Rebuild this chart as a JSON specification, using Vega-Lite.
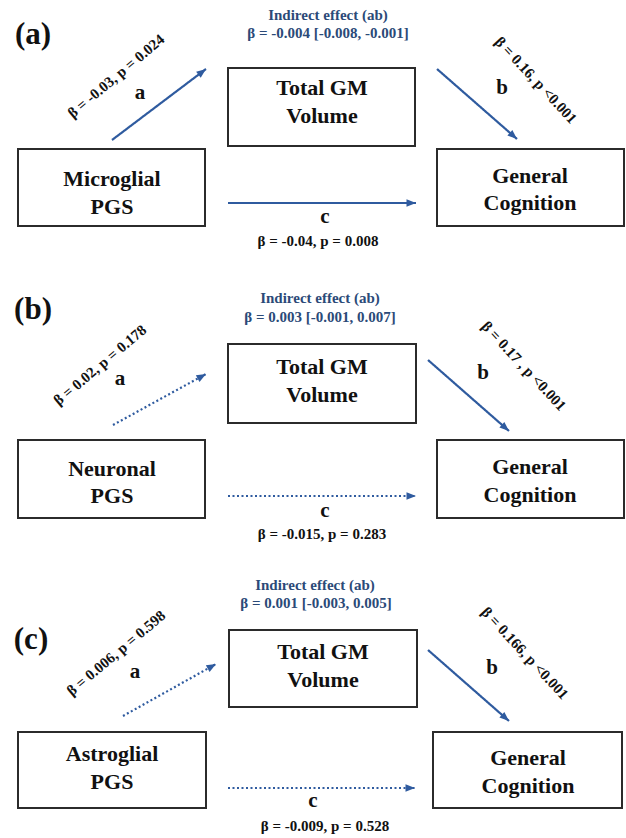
{
  "$schema": "https://vega.github.io/schema/vega-lite/v6.json",
  "width": 626,
  "height": 838,
  "autosize": {"type": "fit", "contains": "padding"},
  "padding": 0,
  "background": "white",
  "config": {"view": {"stroke": null}, "font": "Liberation Serif"},
  "datasets": {
    "boxes": [
      {"x1": 228, "x2": 415, "y1": 68, "y2": 146},
      {"x1": 18, "x2": 205, "y1": 149, "y2": 226},
      {"x1": 437, "x2": 624, "y1": 149, "y2": 226},
      {"x1": 228, "x2": 416, "y1": 344, "y2": 423},
      {"x1": 18, "x2": 205, "y1": 440, "y2": 518},
      {"x1": 437, "x2": 624, "y1": 440, "y2": 518},
      {"x1": 229, "x2": 417, "y1": 630, "y2": 707},
      {"x1": 18, "x2": 206, "y1": 732, "y2": 808},
      {"x1": 433, "x2": 622, "y1": 732, "y2": 808}
    ],
    "arrows": [
      {"x": 112, "y": 140, "xe": 206, "ye": 69, "sig": "yes"},
      {"x": 437, "y": 69, "xe": 517, "ye": 139, "sig": "yes"},
      {"x": 228, "y": 203, "xe": 416, "ye": 203, "sig": "yes"},
      {"x": 113, "y": 425, "xe": 206, "ye": 374, "sig": "no"},
      {"x": 428, "y": 360, "xe": 509, "ye": 431, "sig": "yes"},
      {"x": 228, "y": 496, "xe": 416, "ye": 496, "sig": "no"},
      {"x": 123, "y": 716, "xe": 216, "ye": 664, "sig": "no"},
      {"x": 428, "y": 650, "xe": 509, "ye": 721, "sig": "yes"},
      {"x": 228, "y": 788, "xe": 415, "ye": 788, "sig": "no"}
    ],
    "boxText": [
      {"x": 322, "y": 88, "t": "Total GM"},
      {"x": 322, "y": 116, "t": "Volume"},
      {"x": 112, "y": 179, "t": "Microglial"},
      {"x": 112, "y": 207, "t": "PGS"},
      {"x": 530, "y": 176, "t": "General"},
      {"x": 530, "y": 203, "t": "Cognition"},
      {"x": 322, "y": 367, "t": "Total GM"},
      {"x": 322, "y": 395, "t": "Volume"},
      {"x": 112, "y": 469, "t": "Neuronal"},
      {"x": 112, "y": 496, "t": "PGS"},
      {"x": 530, "y": 467, "t": "General"},
      {"x": 530, "y": 495, "t": "Cognition"},
      {"x": 323, "y": 652, "t": "Total GM"},
      {"x": 323, "y": 680, "t": "Volume"},
      {"x": 112, "y": 754, "t": "Astroglial"},
      {"x": 112, "y": 782, "t": "PGS"},
      {"x": 528, "y": 758, "t": "General"},
      {"x": 528, "y": 786, "t": "Cognition"}
    ],
    "panels": [
      {"x": 33, "y": 35, "t": "(a)"},
      {"x": 33, "y": 310, "t": "(b)"},
      {"x": 31, "y": 640, "t": "(c)"}
    ],
    "indirect": [
      {"x": 328, "y": 15, "t": "Indirect effect (ab)"},
      {"x": 328, "y": 33, "t": "β = -0.004 [-0.008, -0.001]"},
      {"x": 320, "y": 298, "t": "Indirect effect (ab)"},
      {"x": 320, "y": 317, "t": "β = 0.003 [-0.001, 0.007]"},
      {"x": 315, "y": 585, "t": "Indirect effect (ab)"},
      {"x": 316, "y": 603, "t": "β = 0.001 [-0.003, 0.005]"}
    ],
    "letters": [
      {"x": 140, "y": 93, "t": "a"},
      {"x": 502, "y": 88, "t": "b"},
      {"x": 325, "y": 217, "t": "c"},
      {"x": 120, "y": 379, "t": "a"},
      {"x": 483, "y": 373, "t": "b"},
      {"x": 325, "y": 511, "t": "c"},
      {"x": 135, "y": 672, "t": "a"},
      {"x": 492, "y": 668, "t": "b"},
      {"x": 313, "y": 801, "t": "c"}
    ],
    "coefC": [
      {"x": 318, "y": 241, "t": "β = -0.04, p = 0.008"},
      {"x": 322, "y": 534, "t": "β = -0.015, p = 0.283"},
      {"x": 325, "y": 826, "t": "β = -0.009, p = 0.528"}
    ],
    "coefA": [
      {"x": 116, "y": 76, "t": "β = -0.03, p = 0.024"},
      {"x": 100, "y": 365, "t": "β = 0.02, p = 0.178"},
      {"x": 116, "y": 653, "t": "β = 0.006, p = 0.598"}
    ],
    "coefB": [
      {"x": 536, "y": 80, "t": "β = 0.16, p <0.001"},
      {"x": 524, "y": 366, "t": "β = 0.17 , p <0.001"},
      {"x": 525, "y": 653, "t": "β = 0.166, p <0.001"}
    ]
  },
  "layer": [
    {
      "data": {"name": "boxes"},
      "mark": {"type": "rect", "fill": "white", "stroke": "#2b2b2b", "strokeWidth": 2},
      "encoding": {
        "x": {"field": "x1", "type": "quantitative", "scale": {"domain": [0, 626], "nice": false, "zero": false}, "axis": null},
        "x2": {"field": "x2"},
        "y": {"field": "y1", "type": "quantitative", "scale": {"domain": [0, 838], "nice": false, "zero": false, "reverse": true}, "axis": null},
        "y2": {"field": "y2"}
      }
    },
    {
      "data": {"name": "arrows"},
      "mark": {"type": "rule", "color": "#2f5b9f", "strokeWidth": 2.2},
      "encoding": {
        "x": {"field": "x", "type": "quantitative"},
        "y": {"field": "y", "type": "quantitative"},
        "x2": {"field": "xe"},
        "y2": {"field": "ye"},
        "strokeDash": {"field": "sig", "type": "nominal", "scale": {"domain": ["yes", "no"], "range": [[1, 0], [2, 2.5]]}, "legend": null}
      }
    },
    {
      "data": {"name": "arrows"},
      "transform": [{"calculate": "atan2(datum.xe - datum.x, datum.y - datum.ye) * 180 / PI", "as": "ang"}],
      "mark": {"type": "point", "shape": "M0,0L0.8,2L-0.8,2Z", "filled": true, "opacity": 1, "color": "#2f5b9f", "size": 90},
      "encoding": {
        "x": {"field": "xe", "type": "quantitative"},
        "y": {"field": "ye", "type": "quantitative"},
        "angle": {"field": "ang", "type": "quantitative", "scale": null}
      }
    },
    {
      "data": {"name": "boxText"},
      "mark": {"type": "text", "font": "Liberation Serif", "fontWeight": "bold", "fontSize": 22, "color": "#111", "baseline": "middle", "align": "center"},
      "encoding": {
        "x": {"field": "x", "type": "quantitative"},
        "y": {"field": "y", "type": "quantitative"},
        "text": {"field": "t"}
      }
    },
    {
      "data": {"name": "panels"},
      "mark": {"type": "text", "font": "Liberation Serif", "fontWeight": "bold", "fontSize": 31, "color": "#111", "baseline": "middle", "align": "center"},
      "encoding": {
        "x": {"field": "x", "type": "quantitative"},
        "y": {"field": "y", "type": "quantitative"},
        "text": {"field": "t"}
      }
    },
    {
      "data": {"name": "indirect"},
      "mark": {"type": "text", "font": "Liberation Serif", "fontWeight": "bold", "fontSize": 15, "color": "#2b4a78", "baseline": "middle", "align": "center"},
      "encoding": {
        "x": {"field": "x", "type": "quantitative"},
        "y": {"field": "y", "type": "quantitative"},
        "text": {"field": "t"}
      }
    },
    {
      "data": {"name": "letters"},
      "mark": {"type": "text", "font": "Liberation Serif", "fontWeight": "bold", "fontSize": 21, "color": "#111", "baseline": "middle", "align": "center"},
      "encoding": {
        "x": {"field": "x", "type": "quantitative"},
        "y": {"field": "y", "type": "quantitative"},
        "text": {"field": "t"}
      }
    },
    {
      "data": {"name": "coefC"},
      "mark": {"type": "text", "font": "Liberation Serif", "fontWeight": "bold", "fontSize": 15, "color": "#111", "baseline": "middle", "align": "center"},
      "encoding": {
        "x": {"field": "x", "type": "quantitative"},
        "y": {"field": "y", "type": "quantitative"},
        "text": {"field": "t"}
      }
    },
    {
      "data": {"name": "coefA"},
      "mark": {"type": "text", "font": "Liberation Serif", "fontWeight": "bold", "fontSize": 15, "color": "#111", "baseline": "middle", "align": "center", "angle": 320},
      "encoding": {
        "x": {"field": "x", "type": "quantitative"},
        "y": {"field": "y", "type": "quantitative"},
        "text": {"field": "t"}
      }
    },
    {
      "data": {"name": "coefB"},
      "mark": {"type": "text", "font": "Liberation Serif", "fontWeight": "bold", "fontSize": 15, "color": "#111", "baseline": "middle", "align": "center", "angle": 47},
      "encoding": {
        "x": {"field": "x", "type": "quantitative"},
        "y": {"field": "y", "type": "quantitative"},
        "text": {"field": "t"}
      }
    }
  ]
}
